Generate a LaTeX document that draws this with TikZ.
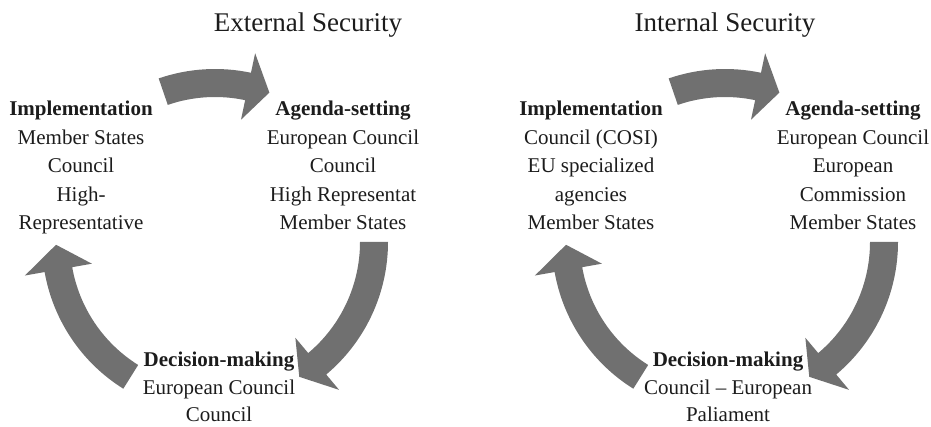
\documentclass[tikz,border=0pt]{standalone}
\usepackage{fontspec}
\setmainfont{Liberation Serif}
\usetikzlibrary{calc}

\definecolor{arrowgray}{RGB}{112,112,112}
\definecolor{inktext}{RGB}{28,28,28}

\tikzset{
  stage/.style={align=center, inner sep=0pt, anchor=north, text=inktext,
                font=\fontsize{21}{28.5}\selectfont},
  lowstage/.style={stage, font=\fontsize{21}{27.5}\selectfont},
  heading/.style={inner sep=0pt, text=inktext, font=\fontsize{27}{30}\selectfont},
  bandarrow/.style={fill=arrowgray, draw=none}
}

% curved block arrow on a circle of radius 159 around the current origin:
% #1 tail angle, #2 angle of the head base, #3 angle of the tip
\newcommand\curvedarrow[3]{%
  \fill[bandarrow] (#1:173) arc[start angle=#1, end angle=#2, radius=173]
    -- (#2:193) -- (#3:159) -- (#2:125) -- (#2:145)
    arc[start angle=#2, end angle=#1, radius=145] -- cycle;}

\begin{document}
\begin{tikzpicture}[x=1pt, y=-1pt]
\useasboundingbox (0,0) rectangle (931,427);

% ---------- external security cycle ----------
\node[heading] (exttitle) at (308,25) {External Security};
\node[stage] (extimpl) at (81,101)
  {\textbf{Implementation}\\Member States\\Council\\High-\\Representative};
\node[stage] (extagenda) at (343,101)
  {\textbf{Agenda-setting}\\European Council\\Council\\High Representat\\Member States};
\node[lowstage] (extdecision) at (219,352)
  {\textbf{Decision-making}\\European Council\\Council};

\begin{scope}[shift={(215,242)}, y=1pt]
  \curvedarrow{109}{78}{70}
  \curvedarrow{0}{-50}{-58}
  \curvedarrow{238}{190}{181}
\end{scope}

% ---------- internal security cycle ----------
\node[heading] (inttitle) at (725,25) {Internal Security};
\node[stage] (intimpl) at (591,101)
  {\textbf{Implementation}\\Council (COSI)\\EU specialized\\agencies\\Member States};
\node[stage] (intagenda) at (853,101)
  {\textbf{Agenda-setting}\\European Council\\European\\Commission\\Member States};
\node[lowstage] (intdecision) at (728,352)
  {\textbf{Decision-making}\\Council – European\\Paliament};

\begin{scope}[shift={(725,242)}, y=1pt]
  \curvedarrow{109}{78}{70}
  \curvedarrow{0}{-50}{-58}
  \curvedarrow{238}{190}{181}
\end{scope}
\end{tikzpicture}
\end{document}
